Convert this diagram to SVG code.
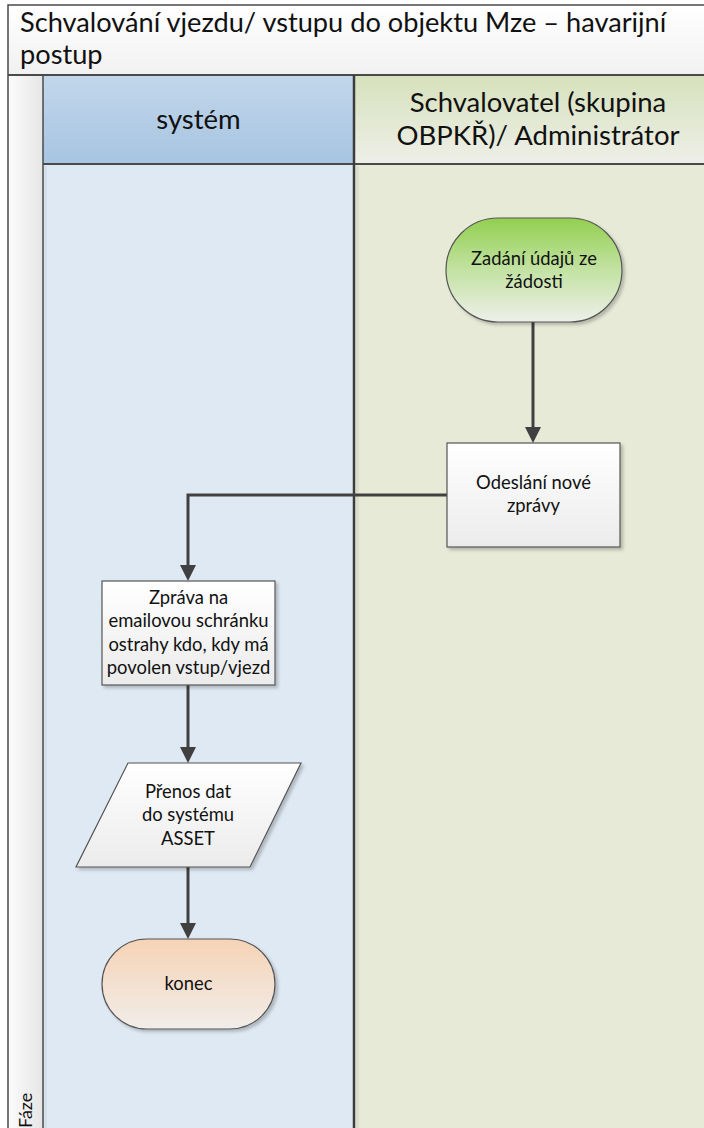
<svg xmlns="http://www.w3.org/2000/svg" width="704" height="1128" viewBox="0 0 704 1128">
<style>
  .t { font-family: Lato, "Liberation Sans", sans-serif; fill: #111; }
  .node { font-size: 18.4px; text-anchor: middle; }
  .hdr { font-size: 27.5px; text-anchor: middle; }
  .line { stroke: #404040; stroke-width: 3; fill: none; }
  .frame { stroke: #4a4a4a; fill: none; }
  .nb { stroke: #555; stroke-width: 1.2; }
</style>
<defs>
  <linearGradient id="gTitle" x1="0" y1="0" x2="0" y2="1"><stop offset="0" stop-color="#ffffff"/><stop offset="1" stop-color="#f1f1f1"/></linearGradient>
  <linearGradient id="gPhase" x1="0" y1="0" x2="1" y2="0"><stop offset="0" stop-color="#fbfbfb"/><stop offset="1" stop-color="#e6e6e6"/></linearGradient>
  <linearGradient id="gBlueH" x1="0" y1="0" x2="0" y2="1"><stop offset="0" stop-color="#c2d7eb"/><stop offset="1" stop-color="#a7c4e1"/></linearGradient>
  <linearGradient id="gGreenH" x1="0" y1="0" x2="0" y2="1"><stop offset="0" stop-color="#d6e1bc"/><stop offset="1" stop-color="#eeefe8"/></linearGradient>
  <linearGradient id="gStart" x1="0" y1="0" x2="0" y2="1"><stop offset="0" stop-color="#92cf4f"/><stop offset="0.5" stop-color="#c3e2a3"/><stop offset="1" stop-color="#eef0ea"/></linearGradient>
  <linearGradient id="gEnd" x1="0" y1="0" x2="0" y2="1"><stop offset="0" stop-color="#f6d3b6"/><stop offset="1" stop-color="#f1ede9"/></linearGradient>
  <linearGradient id="gBox" x1="0" y1="0" x2="0" y2="1"><stop offset="0" stop-color="#ffffff"/><stop offset="1" stop-color="#ebebeb"/></linearGradient>
  <filter id="sh" x="-10%" y="-10%" width="130%" height="130%"><feDropShadow dx="2.5" dy="2.5" stdDeviation="1.5" flood-color="#000" flood-opacity="0.22"/></filter>
  <marker id="arr" viewBox="0 0 16 16" refX="8" refY="8" markerUnits="userSpaceOnUse" markerWidth="16" markerHeight="16" orient="auto"><path d="M0,0 L16,8 L0,16 z" fill="#404040"/></marker>
</defs>

<g id="pool">
  <rect x="8" y="5" width="700" height="70" fill="url(#gTitle)"/>
  <rect x="8" y="75" width="35" height="1060" fill="url(#gPhase)"/>
  <rect x="43" y="75" width="311" height="89" fill="url(#gBlueH)"/>
  <rect x="354" y="75" width="360" height="89" fill="url(#gGreenH)"/>
  <rect x="43" y="164" width="311" height="970" fill="#dfe9f3"/>
  <rect x="354" y="164" width="360" height="970" fill="#e7ead7"/>
  <rect x="44" y="166" width="3" height="968" fill="#cfd9e2" opacity="0.6"/>
  <rect x="356" y="166" width="3" height="968" fill="#d4d8c6" opacity="0.7"/>
  <path class="frame" d="M8,1130 V5 H710" stroke-width="1.5"/>
  <path class="frame" d="M8,75 H710" stroke-width="2"/>
  <path class="frame" d="M43,164 H710" stroke-width="2"/>
  <path class="frame" d="M43,75 V1130" stroke-width="1.5"/>
  <path d="M354,75 V1130" stroke="#3c3c3c" stroke-width="2.5"/>
  <text class="t" x="20" y="32" font-size="27.2">Schvalování vjezdu/ vstupu do objektu Mze – havarijní</text>
  <text class="t" x="20" y="64" font-size="27.2">postup</text>
  <text class="t hdr" x="198.5" y="129">systém</text>
  <text class="t hdr" x="538" y="112">Schvalovatel (skupina</text>
  <text class="t hdr" x="538" y="145">OBPKŘ)/ Administrátor</text>
  <text class="t" transform="translate(32,1128) rotate(-90)" font-size="18">Fáze</text>
</g>

<g id="connectors">
  <path class="line" d="M533,322 V435" marker-end="url(#arr)"/>
  <path class="line" d="M447,495 H188 V573" marker-end="url(#arr)"/>
  <path class="line" d="M188,685 V755" marker-end="url(#arr)"/>
  <path class="line" d="M188,867 V931" marker-end="url(#arr)"/>
</g>

<g id="n-zadani">
  <rect class="nb" x="446" y="218" width="176" height="104" rx="52" ry="52" fill="url(#gStart)" filter="url(#sh)"/>
  <text class="t node" x="534" y="265">Zadání údajů ze</text>
  <text class="t node" x="534" y="288">žádosti</text>
</g>

<g id="n-odeslani">
  <rect class="nb" x="447" y="443" width="173" height="104" fill="url(#gBox)" filter="url(#sh)"/>
  <text class="t node" x="533.5" y="489">Odeslání nové</text>
  <text class="t node" x="533.5" y="512">zprávy</text>
</g>

<g id="n-zprava">
  <rect class="nb" x="102" y="581" width="173" height="104" fill="url(#gBox)" filter="url(#sh)"/>
  <text class="t node" x="188.5" y="604">Zpráva na</text>
  <text class="t node" x="188.5" y="627">emailovou schránku</text>
  <text class="t node" x="188.5" y="651">ostrahy kdo, kdy má</text>
  <text class="t node" x="188.5" y="674">povolen vstup/vjezd</text>
</g>

<g id="n-prenos">
  <polygon class="nb" points="128,763 301,763 250,867 76,867" fill="url(#gBox)" filter="url(#sh)"/>
  <text class="t node" x="188" y="798">Přenos dat</text>
  <text class="t node" x="188" y="821">do systému</text>
  <text class="t node" x="188" y="845">ASSET</text>
</g>

<g id="n-konec">
  <rect class="nb" x="102" y="939" width="173" height="90" rx="45" ry="45" fill="url(#gEnd)" filter="url(#sh)"/>
  <text class="t node" x="188.5" y="990">konec</text>
</g>
</svg>
